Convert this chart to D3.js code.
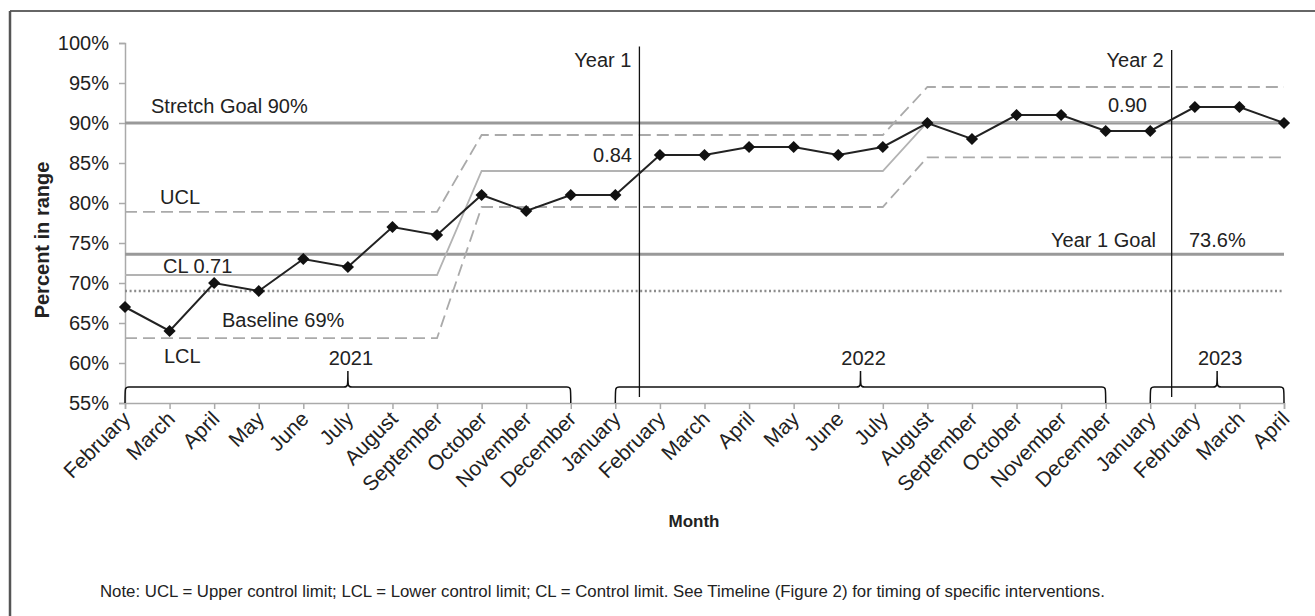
<!DOCTYPE html>
<html><head><meta charset="utf-8">
<script src="https://cdn.jsdelivr.net/npm/d3@7"></script>
<style>
body{margin:0;background:#fff;}
svg{display:block;font-family:"Liberation Sans",Arial,Helvetica,sans-serif;}
</style></head>
<body><svg id="c" width="1315" height="616"></svg>
<script>
// ---- data ----
const months = ["February","March","April","May","June","July","August","September","October","November","December",
  "January","February","March","April","May","June","July","August","September","October","November","December",
  "January","February","March","April"];
const percentInRange = [67,64,70,69,73,72,77,76,81,79,81,81,86,86,87,87,86,87,90,88,91,91,89,89,92,92,90];
const ucl = [78.9,78.9,78.9,78.9,78.9,78.9,78.9,78.9,88.5,88.5,88.5,88.5,88.5,88.5,88.5,88.5,88.5,88.5,94.5,94.5,94.5,94.5,94.5,94.5,94.5,94.5,94.5];
const cl  = [71,71,71,71,71,71,71,71,84,84,84,84,84,84,84,84,84,84,90.1,90.1,90.1,90.1,90.1,90.1,90.1,90.1,90.1];
const lcl = [63.1,63.1,63.1,63.1,63.1,63.1,63.1,63.1,79.5,79.5,79.5,79.5,79.5,79.5,79.5,79.5,79.5,79.5,85.7,85.7,85.7,85.7,85.7,85.7,85.7,85.7,85.7];
const yTicks = [55,60,65,70,75,80,85,90,95,100];
const stretchGoal = 90;
const year1Goal = 73.6;
const baseline = 69;
const years = [{label:"2021", from:0, to:10},{label:"2022", from:11, to:22},{label:"2023", from:23, to:26}];
const yearMarkers = [{label:"Year 1", pos:11.54},{label:"Year 2", pos:23.48}];
const noteText = "Note: UCL = Upper control limit; LCL = Lower control limit; CL = Control limit. See Timeline (Figure 2) for timing of specific interventions.";

// ---- layout ----
const svg = d3.select("#c");
const x = d3.scaleLinear().domain([0, months.length-1]).range([125, 1284]);
const y = d3.scaleLinear().domain([55, 100]).range([403, 43]);
const txt = "#222";

// frame (top and left only)
svg.append("line").attr("x1",10).attr("x2",1315).attr("y1",11).attr("y2",11).attr("stroke","#333").attr("stroke-width",1.5);
svg.append("line").attr("x1",10).attr("x2",10).attr("y1",11).attr("y2",616).attr("stroke","#555").attr("stroke-width",2.5);

// axes
const yAxis = svg.append("g").attr("transform","translate(125,0)")
  .call(d3.axisLeft(y).tickValues(yTicks).tickFormat(d=>d+"%").tickSize(6).tickPadding(10));
const xAxis = svg.append("g").attr("transform","translate(0,403)")
  .call(d3.axisBottom(x).tickValues(d3.range(months.length)).tickFormat(i=>months[i]).tickSize(6));
[yAxis,xAxis].forEach(a=>{
  a.selectAll("path,line").attr("stroke","#aaa").attr("stroke-width",1.5);
  a.selectAll("text").attr("fill",txt).style("font-size","20px");
});
xAxis.selectAll("text")
  .style("font-size","21px")
  .attr("text-anchor","end")
  .attr("transform","translate(1,12) rotate(-45)")
  .attr("dy","0.35em").attr("y",0).attr("x",0);

// reference lines
svg.append("line").attr("x1",x(0)).attr("x2",x(26)).attr("y1",y(stretchGoal)).attr("y2",y(stretchGoal))
  .attr("stroke","#999").attr("stroke-width",3);
svg.append("line").attr("x1",x(0)).attr("x2",x(26)).attr("y1",y(year1Goal)).attr("y2",y(year1Goal))
  .attr("stroke","#999").attr("stroke-width",3);
svg.append("line").attr("x1",x(0)).attr("x2",x(26)).attr("y1",y(baseline)).attr("y2",y(baseline))
  .attr("stroke","#8c8c8c").attr("stroke-width",2.4).attr("stroke-dasharray","2,2.6");

// control limits
const lineGen = d3.line().x((d,i)=>x(i)).y(d=>y(d));
svg.append("path").datum(ucl).attr("d",lineGen).attr("fill","none").attr("stroke","#aaa").attr("stroke-width",1.8).attr("stroke-dasharray","12,6");
svg.append("path").datum(lcl).attr("d",lineGen).attr("fill","none").attr("stroke","#aaa").attr("stroke-width",1.8).attr("stroke-dasharray","12,6");
svg.append("path").datum(cl).attr("d",lineGen).attr("fill","none").attr("stroke","#b3b3b3").attr("stroke-width",1.8);

// year markers
yearMarkers.forEach((m,k)=>{
  svg.append("line").attr("x1",x(m.pos)).attr("x2",x(m.pos)).attr("y1",k===0?46.5:50).attr("y2",397)
    .attr("stroke","#111").attr("stroke-width",1.3);
  svg.append("text").attr("x",x(m.pos)-8).attr("y",67).attr("text-anchor","end").attr("fill",txt)
    .style("font-size","20px").text(m.label);
});

// year braces
years.forEach(yr=>{
  const x0=x(yr.from), x1=x(yr.to), xm=(x0+x1)/2, yb=403, yt=387, yp=371, r=4;
  const p = `M${x0},${yb} C${x0},${yt} ${x0},${yt} ${x0+r},${yt} L${xm-r},${yt} C${xm},${yt} ${xm},${yt} ${xm},${yp} C${xm},${yt} ${xm},${yt} ${xm+r},${yt} L${x1-r},${yt} C${x1},${yt} ${x1},${yt} ${x1},${yb}`;
  svg.append("path").attr("d",p).attr("fill","none").attr("stroke","#111").attr("stroke-width",1.5);
  svg.append("text").attr("x",xm+3).attr("y",365).attr("text-anchor","middle").attr("fill",txt).style("font-size","20px").text(yr.label);
});

// data series
svg.append("path").datum(percentInRange).attr("d",lineGen).attr("fill","none").attr("stroke","#222").attr("stroke-width",2);
svg.selectAll(".pt").data(percentInRange).enter().append("path").attr("class","pt")
  .attr("d",d3.symbol(d3.symbolDiamond2,95)())
  .attr("transform",(d,i)=>`translate(${x(i)},${y(d)})`)
  .attr("fill","#111");

// annotations
const ann = [
  {t:"Stretch Goal 90%", x:151, y:y(stretchGoal)-10, a:"start"},
  {t:"UCL", x:160, y:y(ucl[0])-8, a:"start"},
  {t:"CL 0.71", x:163, y:y(cl[0])-2.5, a:"start"},
  {t:"Baseline 69%", x:222, y:y(baseline)+36, a:"start"},
  {t:"LCL", x:164, y:y(lcl[0])+24.5, a:"start"},
  {t:"0.84", x:632, y:y(cl[12])-9, a:"end"},
  {t:"0.90", x:1108, y:y(stretchGoal)-11, a:"start"},
  {t:"Year 1 Goal", x:1156, y:y(year1Goal)-7.5, a:"end"},
  {t:"73.6%", x:1189, y:y(year1Goal)-7.5, a:"start"}
];
ann.forEach(a=>svg.append("text").attr("x",a.x).attr("y",a.y).attr("text-anchor",a.a).attr("fill",txt).style("font-size","20px").text(a.t));

// axis titles
svg.append("text").attr("transform","translate(49,240) rotate(-90)").attr("text-anchor","middle")
  .attr("fill",txt).style("font-size","20px").style("font-weight","bold").text("Percent in range");
svg.append("text").attr("x",694).attr("y",527).attr("text-anchor","middle")
  .attr("fill",txt).style("font-size","17px").style("font-weight","bold").text("Month");

// note
svg.append("text").attr("x",100).attr("y",597).attr("fill",txt).style("font-size","16.8px").text(noteText);
</script></body></html>
